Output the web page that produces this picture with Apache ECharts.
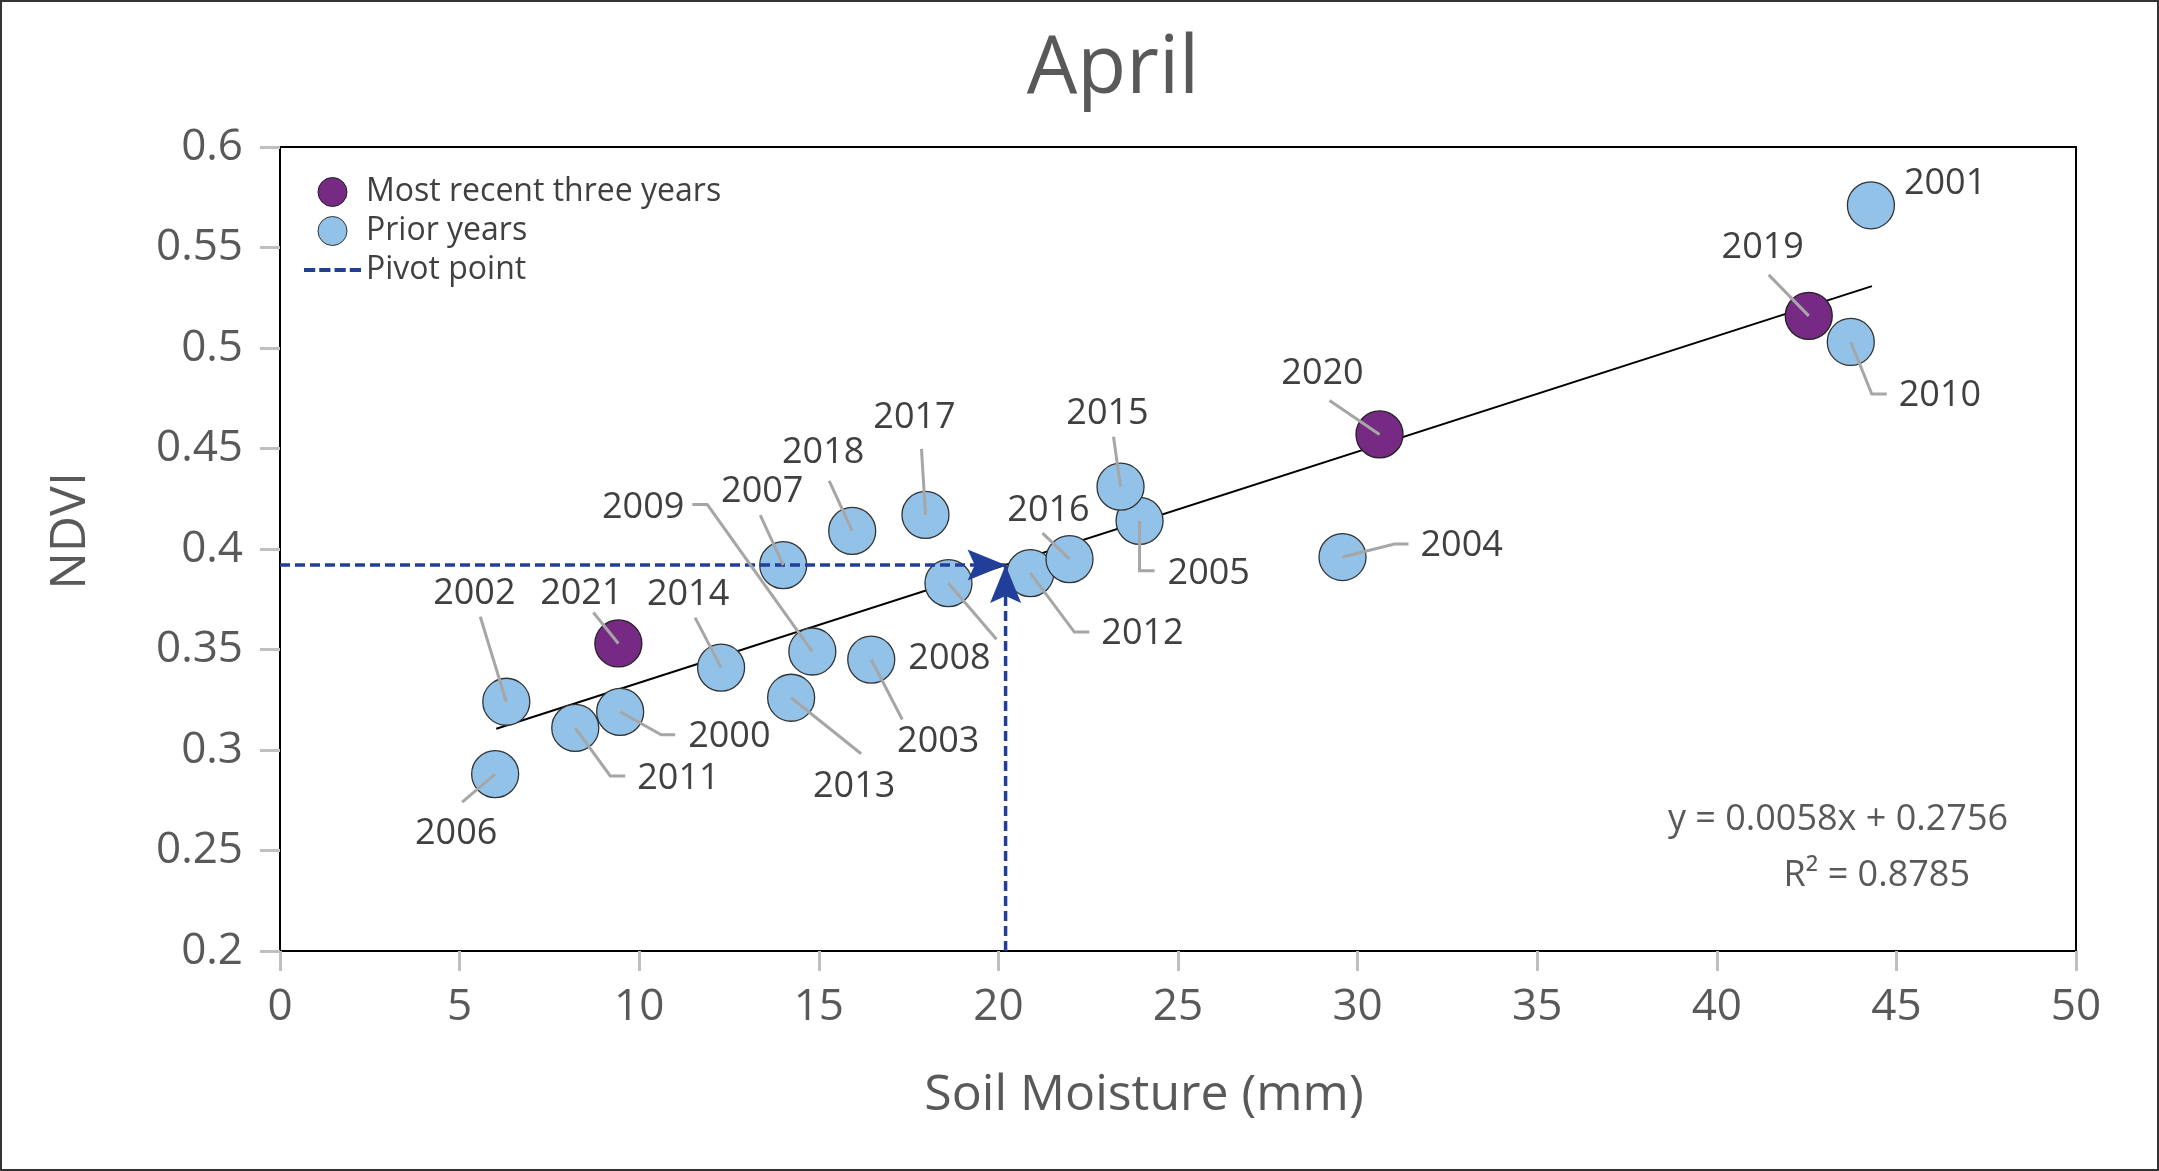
<!DOCTYPE html>
<html>
<head>
<meta charset="utf-8">
<title>April</title>
<script src="https://cdn.jsdelivr.net/npm/echarts@6/dist/echarts.min.js"></script>
<style>
html,body{margin:0;padding:0;background:#fff;}
#chart{width:2159px;height:1171px;}
</style>
</head>
<body>
<div id="chart"></div>
<script>
// values
var years = [2000, 2001, 2002, 2003, 2004, 2005, 2006, 2007, 2008, 2009, 2010,
             2011, 2012, 2013, 2014, 2015, 2016, 2017, 2018, 2019, 2020, 2021];
var soilMoisture = [9.47, 44.29, 6.30, 16.46, 29.58, 23.93, 5.99, 14.01, 18.61, 14.82, 43.73,
                    8.22, 20.89, 14.23, 12.28, 23.40, 21.98, 17.97, 15.93, 42.56, 30.61, 9.42];
var ndvi = [0.319, 0.571, 0.324, 0.345, 0.396, 0.414, 0.288, 0.392, 0.383, 0.349, 0.503,
            0.311, 0.388, 0.326, 0.341, 0.431, 0.395, 0.417, 0.409, 0.516, 0.457, 0.353];
var recentYears = [2019, 2020, 2021];
var trendX = [6.02, 44.32];
var trendY = [0.3106, 0.5308];
var pivot = [20.2, 0.392];
var xTicks = {min: 0, max: 50, step: 5};
var yTicks = {min: 0.2, max: 0.6, step: 0.05};

// label placement (pixel offsets from the point centre): leader bends, text anchor, align
var labelPos = {
  2000: {pts: [[41, 23], [55, 23]], at: [68, 25], align: 'left'},
  2001: {pts: [], at: [33, -22], align: 'left'},
  2002: {pts: [[-26, -85]], at: [-32, -108], align: 'center'},
  2003: {pts: [[31, 60]], at: [67, 82], align: 'center'},
  2004: {pts: [[52, -13], [66, -13]], at: [78, -11], align: 'left'},
  2005: {pts: [[0, 50], [15, 50]], at: [28, 53], align: 'left'},
  2006: {pts: [[-33, 28]], at: [-39, 60], align: 'center'},
  2007: {pts: [[-23, -50]], at: [-21, -73], align: 'center'},
  2008: {pts: [[48, 56]], at: [1, 76], align: 'center'},
  2009: {pts: [[-105, -147], [-120, -147]], at: [-128, -144], align: 'right'},
  2010: {pts: [[21, 52], [36, 52]], at: [48, 54], align: 'left'},
  2011: {pts: [[35, 48], [50, 48]], at: [62, 51], align: 'left'},
  2012: {pts: [[44, 59], [59, 59]], at: [71, 61], align: 'left'},
  2013: {pts: [[70, 56]], at: [63, 89], align: 'center'},
  2014: {pts: [[-26, -50]], at: [-33, -73], align: 'center'},
  2015: {pts: [[-7, -50]], at: [-13, -73], align: 'center'},
  2016: {pts: [[-27, -26]], at: [-21, -48], align: 'center'},
  2017: {pts: [[-4, -66]], at: [-11, -97], align: 'center'},
  2018: {pts: [[-23, -50]], at: [-29, -78], align: 'center'},
  2019: {pts: [[-40, -41]], at: [-46, -68], align: 'center'},
  2020: {pts: [[-50, -34]], at: [-57, -61], align: 'center'},
  2021: {pts: [[-25, -31]], at: [-37, -50], align: 'center'}
};

var FONT = '"Open Sans", "Noto Sans", sans-serif';
var PURPLE = '#772a83', BLUE = '#93c2e9', NAVY = '#213f99';

var allPts = [], recentPts = [], priorPts = [];
for (var i = 0; i < years.length; i++) {
  var p = [soilMoisture[i], ndvi[i], years[i]];
  allPts.push(p);
  if (recentYears.indexOf(years[i]) >= 0) recentPts.push(p); else priorPts.push(p);
}

function renderLabel(params, api) {
  var c = api.coord([api.value(0), api.value(1)]);
  var lay = labelPos[api.value(2)];
  var kids = [];
  if (lay.pts.length) {
    var pts = [c];
    for (var k = 0; k < lay.pts.length; k++) pts.push([c[0] + lay.pts[k][0], c[1] + lay.pts[k][1]]);
    kids.push({type: 'polyline', shape: {points: pts},
      style: {stroke: '#a6a6a6', lineWidth: 3, fill: null}});
  }
  kids.push({type: 'text', style: {
    text: String(api.value(2)), x: c[0] + lay.at[0], y: c[1] + lay.at[1],
    align: lay.align, verticalAlign: 'middle',
    fontSize: 36, fontFamily: FONT, fill: '#404040'}});
  return {type: 'group', children: kids};
}

var dashIcon = 'path://M0,0h11v4h-11z M15,0h11v4h-11z M30,0h11v4h-11z M45,0h11v4h-11z';
// arrow head pointing up, with a shallow notch at the back
var arrowHead = 'path://M15,0 L30,37 L15,30 L0,37 Z';

var option = {
  backgroundColor: '#fff',
  animation: false,
  grid: {left: 280, right: 83, top: 147, bottom: 220, show: true,
         borderColor: '#000', borderWidth: 2, backgroundColor: 'transparent'},
  legend: {
    orient: 'vertical', left: 299, top: 171, itemWidth: 57, itemHeight: 29, itemGap: 7,
    textStyle: {fontSize: 32, lineHeight: 32, fontFamily: FONT, color: '#404040'},
    selectedMode: false,
    data: [
      {name: 'Most recent three years', icon: 'circle',
       itemStyle: {color: PURPLE, borderColor: '#222', borderWidth: 1}},
      {name: 'Prior years', icon: 'circle',
       itemStyle: {color: BLUE, borderColor: '#333', borderWidth: 1}},
      {name: 'Pivot point', icon: dashIcon, itemStyle: {color: NAVY, borderWidth: 0}}
    ]
  },
  xAxis: {
    type: 'value', min: xTicks.min, max: xTicks.max, interval: xTicks.step,
    name: 'Soil Moisture (mm)', nameLocation: 'middle', nameGap: 120,
    nameTextStyle: {fontSize: 50, fontFamily: FONT, color: '#595959', padding: [0, 68, 0, 0]},
    axisLine: {show: false},
    axisTick: {show: true, length: 20, lineStyle: {color: '#bfbfbf', width: 3}},
    axisLabel: {margin: 34, fontSize: 44, fontFamily: FONT, color: '#595959'},
    splitLine: {show: false}
  },
  yAxis: {
    type: 'value', min: yTicks.min, max: yTicks.max, interval: yTicks.step,
    name: 'NDVI', nameLocation: 'middle', nameGap: 184,
    nameTextStyle: {fontSize: 50, fontFamily: FONT, color: '#595959', padding: [0, 0, 0, 36]},
    axisLine: {show: false},
    axisTick: {show: true, length: 20, lineStyle: {color: '#bfbfbf', width: 3}},
    axisLabel: {margin: 37, fontSize: 44, fontFamily: FONT, color: '#595959'},
    splitLine: {show: false}
  },
  graphic: [
    {type: 'rect', shape: {x: 1, y: 1, width: 2157, height: 1169},
     style: {stroke: '#333', lineWidth: 2, fill: null}, z: 100},
    {type: 'text', x: 1113, y: 70, style: {text: 'April', align: 'center', verticalAlign: 'middle',
     fontSize: 80, fontFamily: FONT, fill: '#595959'}},
    {type: 'text', x: 1838, y: 820, style: {text: 'y = 0.0058x + 0.2756', align: 'center',
     verticalAlign: 'middle', fontSize: 36, fontFamily: FONT, fill: '#595959'}},
    {type: 'text', x: 1970, y: 876, style: {text: 'R² = 0.8785', align: 'right',
     verticalAlign: 'middle', fontSize: 36, fontFamily: FONT, fill: '#595959'}}
  ],
  series: [
    {
      name: 'trend', type: 'line', silent: true, symbol: 'none', z: 2,
      lineStyle: {color: '#000', width: 2},
      data: [[trendX[0], trendY[0]], [trendX[1], trendY[1]]]
    },
    {
      name: 'Prior years', type: 'scatter', symbolSize: 47, z: 3,
      itemStyle: {color: BLUE, borderColor: '#333', borderWidth: 1.3, opacity: 1},
      data: priorPts
    },
    {
      name: 'Most recent three years', type: 'scatter', symbolSize: 47, z: 3,
      itemStyle: {color: PURPLE, borderColor: '#222', borderWidth: 1.3, opacity: 1},
      data: recentPts
    },
    {
      name: 'Pivot point', type: 'line', z: 4, symbol: 'none', showSymbol: true,
      lineStyle: {color: NAVY, width: 3.5, type: [10, 5]}, itemStyle: {color: NAVY},
      data: [
        {value: [xTicks.min, pivot[1]], symbol: 'none'},
        {value: [pivot[0], pivot[1]], symbol: arrowHead, symbolSize: [31, 38],
         symbolRotate: -90, symbolOffset: [-19, 0], itemStyle: {color: NAVY, borderWidth: 0}}
      ]
    },
    {
      name: 'Pivot point', type: 'line', z: 4, symbol: 'none', showSymbol: true,
      lineStyle: {color: NAVY, width: 3.5, type: [10, 5]}, itemStyle: {color: NAVY},
      data: [
        {value: [pivot[0], yTicks.min], symbol: 'none'},
        {value: [pivot[0], pivot[1]], symbol: arrowHead, symbolSize: [31, 38],
         symbolOffset: [0, 19], itemStyle: {color: NAVY, borderWidth: 0}}
      ]
    },
    {
      name: 'labels', type: 'custom', z: 5, silent: true, clip: false,
      renderItem: renderLabel,
      encode: {x: 0, y: 1},
      data: allPts
    }
  ]
};

var myChart = echarts.init(document.getElementById('chart'));
myChart.setOption(option);
</script>
</body>
</html>
